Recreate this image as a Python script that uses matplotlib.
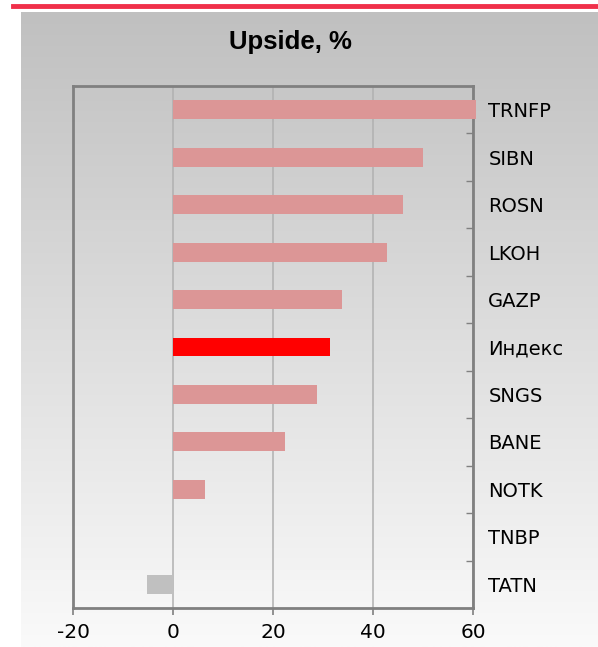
import numpy as np
import matplotlib
matplotlib.use("Agg")
import matplotlib.pyplot as plt
from matplotlib.lines import Line2D

tickers = ["TRNFP", "SIBN", "ROSN", "LKOH", "GAZP", "Индекс",
           "SNGS", "BANE", "NOTK", "TNBP", "TATN"]
upside = [60.6, 50.0, 46.0, 42.8, 33.8, 31.4, 28.8, 22.4, 6.4, 0.0, -5.2]
xticks = [-20, 0, 20, 40, 60]

pink = "#dc9696"
colors = []
for t, v in zip(tickers, upside):
    if t == "Индекс":
        colors.append("#ff0000")
    elif v < 0:
        colors.append("#c0c0c0")
    else:
        colors.append(pink)

W, H = 598, 647
fig = plt.figure(figsize=(W / 100, H / 100), dpi=100)

# grey gradient background
bg = fig.add_axes([21 / W, 0, 1 - 21 / W, (H - 12) / H], zorder=-10)
grad = np.linspace(192, 250, 256).reshape(-1, 1) / 255.0
bg.imshow(np.dstack([grad, grad, grad]), aspect="auto", extent=[0, 1, 0, 1], origin="upper")
bg.axis("off")

# red line on top
fig.add_artist(Line2D([13 / W, 1], [1 - 6 / H, 1 - 6 / H], color="#f0304a", lw=3.5))

ax = fig.add_axes([73 / W, (H - 608) / H, 400 / W, (608 - 86) / H])
ax.set_facecolor("none")

y = np.arange(len(tickers))
ax.barh(y, upside, height=0.4, color=colors, zorder=3, clip_on=False)

ax.set_xlim(-20, 60)
ax.set_ylim(len(tickers) - 0.5, -0.5)
ax.set_xticks(xticks)
ax.set_xticklabels([str(v) for v in xticks])
ax.grid(axis="x", color="#b0b0b0", lw=1.1, zorder=1)

ax.yaxis.tick_right()
ax.set_yticks(y)
ax.set_yticklabels(tickers)
ax.set_yticks(np.arange(len(tickers) - 1) + 0.5, minor=True)
ax.tick_params(axis="y", which="major", length=0, pad=11, labelsize=14)
ax.tick_params(axis="y", which="minor", length=5, direction="in", color="#808080", width=1)
ax.tick_params(axis="x", length=5, direction="out", color="#808080", width=1.2, pad=6, labelsize=14.5)

for s in ax.spines.values():
    s.set_color("#808080")
    s.set_linewidth(2)

fig.text(290 / W, 1 - 42 / H, "Upside, %", ha="center", va="center",
         fontsize=18.5, fontweight="bold", family="Liberation Sans")

fig.savefig("out.png", dpi=100)
